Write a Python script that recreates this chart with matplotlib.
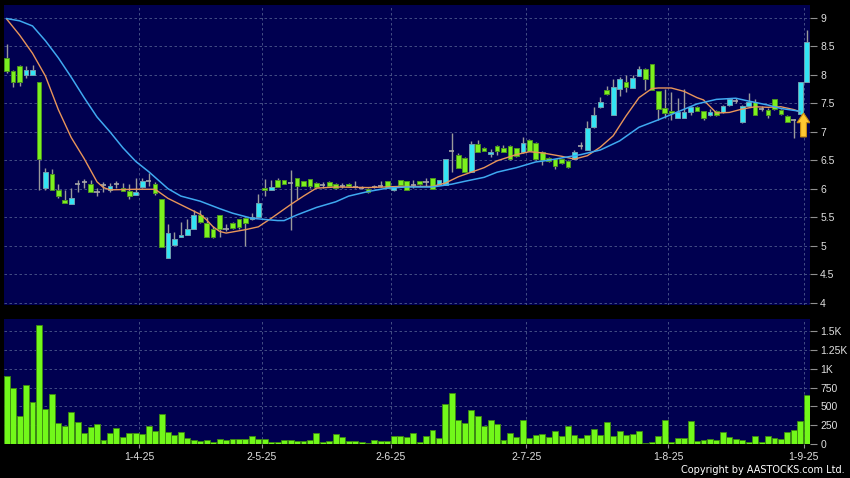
import numpy as np
import matplotlib.pyplot as plt
from matplotlib.patches import FancyArrow

# daily candles, 3 Mar 2025 .. 1 Sep 2025 (HK trading days)
opens = [8.29, 8.07, 8.16, 8.00, 8.00, 7.87, 6.01, 6.26, 5.97, 5.81,
         5.73, 6.09, 6.11, 6.08, 5.95, 6.07, 5.97, 6.08, 6.02, 5.96,
         5.89, 6.03, 6.13, 6.08, 5.82, 4.78, 5.01, 5.15, 5.19, 5.29,
         5.53, 5.40, 5.29, 5.53, 5.30, 5.40, 5.47, 5.49, 5.47, 5.50,
         6.02, 5.97, 6.15, 6.15, 6.10, 6.19, 6.14, 6.17, 6.10, 6.06,
         6.11, 6.08, 6.04, 6.08, 6.03, 6.02, 6.00, 6.03, 6.05, 6.13,
         5.98, 6.15, 6.13, 6.06, 6.13, 6.11, 6.19, 6.07, 6.07, 6.67,
         6.60, 6.54, 6.29, 6.78, 6.71, 6.61, 6.75, 6.71, 6.75, 6.71,
         6.64, 6.86, 6.81, 6.65, 6.54, 6.52, 6.52, 6.49, 6.53, 6.75,
         6.68, 7.08, 7.43, 7.74, 7.30, 7.75, 7.88, 7.77, 7.98, 8.10,
         8.19, 7.71, 7.42, 7.36, 7.24, 7.24, 7.34, 7.43, 7.36, 7.29,
         7.36, 7.34, 7.47, 7.55, 7.17, 7.45, 7.53, 7.40, 7.39, 7.57,
         7.39, 7.28, 7.21, 7.32, 7.87]
highs = [8.54, 8.09, 8.17, 8.16, 8.17, 7.87, 6.36, 6.35, 6.08, 5.97,
         6.02, 6.16, 6.17, 6.16, 6.01, 6.11, 6.10, 6.13, 6.10, 6.09,
         6.19, 6.19, 6.28, 6.11, 5.82, 5.38, 5.24, 5.42, 5.46, 5.62,
         5.62, 5.51, 5.34, 5.53, 5.38, 5.42, 5.47, 5.50, 5.57, 5.91,
         6.17, 6.16, 6.19, 6.15, 6.32, 6.19, 6.14, 6.17, 6.11, 6.12,
         6.14, 6.10, 6.10, 6.10, 6.13, 6.05, 6.01, 6.06, 6.13, 6.14,
         6.03, 6.16, 6.13, 6.15, 6.14, 6.18, 6.19, 6.16, 6.53, 6.98,
         6.62, 6.55, 6.83, 6.86, 6.73, 6.70, 6.76, 6.76, 6.77, 6.72,
         6.90, 6.88, 6.82, 6.66, 6.55, 6.53, 6.53, 6.50, 6.68, 6.82,
         7.19, 7.43, 7.61, 7.81, 7.93, 7.96, 8.00, 8.00, 8.15, 8.12,
         8.19, 7.72, 7.75, 7.70, 7.60, 7.75, 7.45, 7.46, 7.37, 7.40,
         7.38, 7.47, 7.60, 7.60, 7.47, 7.68, 7.57, 7.45, 7.41, 7.58,
         7.40, 7.29, 7.22, 7.88, 8.79]
lows = [8.03, 7.78, 7.81, 7.95, 8.00, 5.97, 5.98, 5.97, 5.84, 5.74,
        5.73, 5.95, 6.01, 5.94, 5.87, 5.95, 5.94, 6.01, 5.96, 5.82,
        5.89, 6.01, 6.04, 5.89, 4.98, 4.78, 4.99, 5.15, 5.19, 5.29,
        5.40, 5.15, 5.14, 5.15, 5.25, 5.30, 5.30, 5.00, 5.45, 5.50,
        5.87, 5.97, 6.03, 6.09, 5.27, 5.82, 6.04, 6.02, 6.02, 6.02,
        6.03, 6.00, 6.02, 6.03, 6.01, 6.00, 5.93, 6.01, 6.03, 6.01,
        5.96, 6.04, 5.97, 6.02, 6.07, 6.04, 5.99, 6.06, 6.07, 6.30,
        6.36, 6.29, 6.29, 6.65, 6.66, 6.55, 6.60, 6.64, 6.50, 6.55,
        6.62, 6.66, 6.51, 6.42, 6.47, 6.34, 6.44, 6.37, 6.52, 6.70,
        6.68, 7.06, 7.42, 7.65, 7.30, 7.63, 7.70, 7.77, 7.98, 7.74,
        7.73, 7.20, 7.25, 7.20, 7.24, 7.24, 7.30, 7.36, 7.21, 7.28,
        7.28, 7.33, 7.46, 7.50, 7.16, 7.44, 7.29, 7.36, 7.25, 7.38,
        7.30, 7.17, 6.89, 7.31, 7.87]
closes = [8.06, 7.88, 7.87, 8.09, 8.09, 6.52, 6.29, 5.98, 5.87, 5.74,
          5.84, 6.09, 6.11, 5.94, 5.95, 6.07, 6.05, 6.08, 5.96, 5.88,
          5.94, 6.14, 6.13, 5.92, 4.98, 5.22, 5.11, 5.19, 5.29, 5.53,
          5.41, 5.16, 5.15, 5.29, 5.30, 5.31, 5.33, 5.39, 5.50, 5.74,
          5.97, 6.03, 6.03, 6.09, 6.10, 6.05, 6.05, 6.04, 6.03, 6.06,
          6.04, 6.01, 6.04, 6.04, 6.03, 6.02, 5.94, 6.03, 6.05, 6.01,
          6.03, 6.06, 5.98, 6.06, 6.08, 6.11, 6.00, 6.15, 6.52, 6.67,
          6.37, 6.29, 6.78, 6.65, 6.67, 6.64, 6.67, 6.65, 6.52, 6.57,
          6.80, 6.67, 6.52, 6.50, 6.48, 6.40, 6.45, 6.38, 6.64, 6.75,
          7.06, 7.30, 7.52, 7.66, 7.78, 7.92, 7.78, 7.94, 8.10, 7.92,
          7.73, 7.40, 7.33, 7.33, 7.34, 7.34, 7.43, 7.37, 7.24, 7.34,
          7.30, 7.45, 7.58, 7.55, 7.45, 7.52, 7.30, 7.40, 7.30, 7.40,
          7.32, 7.18, 7.21, 7.87, 8.57]
volumes = [906, 746, 366, 786, 563, 1580, 460, 661, 281, 241,
           424, 295, 147, 219, 259, 45, 147, 214, 89, 138,
           138, 125, 237, 174, 397, 156, 112, 152, 76, 54,
           31, 45, 18, 58, 45, 67, 58, 58, 107, 62,
           67, 27, 22, 45, 49, 31, 31, 49, 143, 18,
           40, 125, 85, 31, 40, 22, 4, 45, 31, 31,
           98, 98, 94, 138, 18, 105, 188, 76, 531, 683,
           312, 272, 446, 366, 241, 312, 259, 45, 147, 85,
           321, 76, 121, 134, 89, 165, 107, 232, 121, 80,
           121, 196, 112, 290, 103, 174, 121, 129, 174, 4,
           22, 107, 317, 22, 71, 76, 308, 31, 54, 58,
           54, 152, 85, 67, 45, 18, 98, 22, 107, 71,
           62, 161, 179, 304, 656]

# moving averages
ma_fast_x = [0, 2, 4, 6, 8, 10, 12, 14, 15, 16, 20, 23, 25, 30, 31, 32, 33, 34,
             37, 39, 41, 44, 46, 48, 51, 56, 61, 66, 68, 70, 72, 74, 76, 79, 81,
             83, 86, 88, 90, 92, 94, 96, 98, 100, 101, 103, 105, 107, 108, 110,
             112, 114, 116, 118, 120, 122, 123]
ma_fast_y = [8.98, 8.70, 8.38, 7.98, 7.39, 6.90, 6.53, 6.12, 6.02, 5.98, 5.99,
             5.99, 5.83, 5.55, 5.45, 5.33, 5.25, 5.22, 5.28, 5.33, 5.48, 5.72,
             5.87, 6.01, 6.03, 6.02, 6.04, 6.04, 6.10, 6.21, 6.29, 6.37, 6.49,
             6.60, 6.65, 6.63, 6.57, 6.52, 6.58, 6.73, 6.93, 7.28, 7.60, 7.76,
             7.77, 7.77, 7.71, 7.60, 7.56, 7.33, 7.34, 7.40, 7.44, 7.43, 7.44,
             7.39, 7.35]
ma_slow_x = [0, 2, 4, 6, 8, 10, 12, 14, 16, 18, 20, 22, 24, 25, 27, 30, 33, 35,
             38, 40, 42, 43, 45, 48, 51, 53, 56, 59, 62, 66, 69, 71, 74, 76, 79,
             82, 84, 87, 89, 92, 95, 98, 101, 104, 107, 110, 113, 115, 118, 120,
             123]
ma_slow_y = [8.99, 8.95, 8.86, 8.60, 8.30, 7.96, 7.60, 7.26, 7.00, 6.72, 6.48,
             6.30, 6.10, 6.00, 5.87, 5.78, 5.65, 5.57, 5.48, 5.46, 5.44, 5.44,
             5.54, 5.67, 5.77, 5.87, 5.95, 6.01, 6.03, 6.03, 6.08, 6.13, 6.20,
             6.29, 6.37, 6.47, 6.50, 6.56, 6.60, 6.68, 6.84, 7.08, 7.21, 7.35,
             7.49, 7.57, 7.59, 7.54, 7.47, 7.41, 7.36]

month_idx = [21, 40, 60, 81, 103, 124]
month_labels = ['1-4-25', '2-5-25', '2-6-25', '2-7-25', '1-8-25', '1-9-25']
price_ticks = [4, 4.5, 5, 5.5, 6, 6.5, 7, 7.5, 8, 8.5, 9]
price_labels = ['4', '4.5', '5', '5.5', '6', '6.5', '7', '7.5', '8', '8.5', '9']
vol_ticks = [0, 250, 500, 750, 1000, 1250, 1500]
vol_labels = ['0', '250', '500', '750', '1K', '1.25K', '1.5K']

BG = '#000050'
GRID = '#4e5a8c'
UP = '#33e4f4'
DOWN = '#7cf01e'
TXT = '#e0e0e0'

plt.rcParams['font.family'] = ['Liberation Sans', 'DejaVu Sans']

fig = plt.figure(figsize=(8.5, 4.78), dpi=100, facecolor='black')
ax1 = fig.add_axes([0.0047, 0.3619, 0.9488, 0.6276], facecolor=BG)
ax2 = fig.add_axes([0.0047, 0.0718, 0.9488, 0.2608], facecolor=BG)

o = np.array(opens)
h = np.array(highs)
l = np.array(lows)
c = np.array(closes)
x = np.arange(len(o))

up = c > o
down = c < o
flat = c == o

# wicks
ax1.vlines(x, l, h, color='#9a9a9a', lw=1, zorder=2)
# bodies
ax1.bar(x[up], (c - o)[up], bottom=o[up], width=0.72, color=UP,
        edgecolor='#6f9fb0', lw=0.7, zorder=3)
ax1.bar(x[down], (o - c)[down], bottom=c[down], width=0.72, color=DOWN,
        edgecolor='#4c9520', lw=0.7, zorder=3)
ax1.hlines(o[flat], x[flat] - 0.4, x[flat] + 0.4, color='#a8a8a8', lw=1.2, zorder=3)

ax1.plot(ma_fast_x, ma_fast_y, color='#e8955a', lw=1.0, zorder=4)
ax1.plot(ma_slow_x, ma_slow_y, color='#3fa9f0', lw=1.1, zorder=4)

arrow = FancyArrow(123.5, 6.91, 0, 0.42, width=0.9, head_width=2.0,
                   head_length=0.17, length_includes_head=True,
                   fc='#ffc832', ec='#c88a10', lw=0.8, zorder=6)
ax1.add_patch(arrow)

ax2.bar(x, volumes, width=0.92, color='#72f81a', edgecolor='#3d8a10', lw=0.6, zorder=3)

grid_x = [m - 0.5 for m in month_idx]
for ax in (ax1, ax2):
    ax.set_xlim(-0.42, 124.58)
    for s in ax.spines.values():
        s.set_visible(False)
    ax.yaxis.tick_right()
    ax.set_xticks(grid_x)
    ax.grid(True, color=GRID, lw=0.6, ls=(0, (3, 3)), zorder=0)
    ax.tick_params(axis='y', colors=TXT, length=5, width=0.8, pad=2, labelsize=7.5)
    ax.tick_params(axis='y', color='#909090')

ax1.set_ylim(3.956, 9.228)
ax1.set_yticks(price_ticks)
ax1.set_yticklabels(price_labels)
ax1.tick_params(axis='x', length=0, labelbottom=False)

ax2.set_ylim(0, 1665)
ax2.set_yticks(vol_ticks)
ax2.set_yticklabels(vol_labels)
ax2.set_xticklabels(month_labels)
ax2.tick_params(axis='x', colors=TXT, color='#909090', length=3, width=0.8,
                pad=3, labelsize=7.5)

fig.text(0.994, 0.006, 'Copyright by AASTOCKS.com Ltd.', ha='right', va='bottom',
         color='white', fontsize=7, family='DejaVu Sans')

fig.savefig('out.png', dpi=100, facecolor='black')
